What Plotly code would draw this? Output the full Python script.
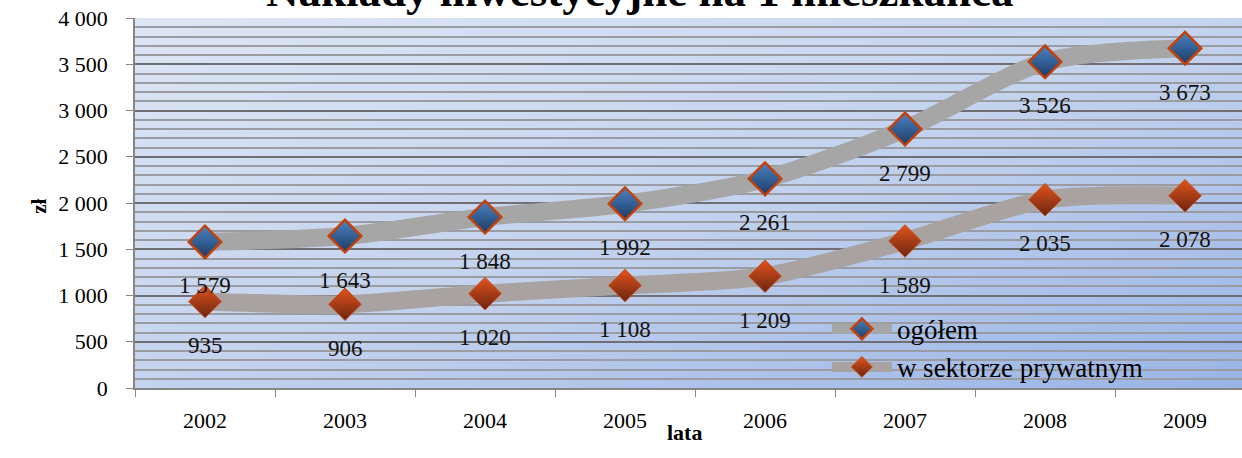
import base64
import plotly.graph_objects as go

years = ["2002", "2003", "2004", "2005", "2006", "2007", "2008", "2009"]
ogolem = [1579, 1643, 1848, 1992, 2261, 2799, 3526, 3673]
prywatny = [935, 906, 1020, 1108, 1209, 1589, 2035, 2078]
y_ticks = [0, 500, 1000, 1500, 2000, 2500, 3000, 3500, 4000]
title_text = "Nakłady inwestycyjne na 1 mieszkańca"

FONT = "Liberation Serif, Times New Roman, DejaVu Serif, serif"


def fmt(v):
    return f"{v:,}".replace(",", " ")


svg = (
    '<svg xmlns="http://www.w3.org/2000/svg" width="400" height="200" preserveAspectRatio="none">'
    '<defs><linearGradient id="g" x1="0" y1="0" x2="1" y2="1">'
    '<stop offset="0" stop-color="#dde6f4"/><stop offset="0.5" stop-color="#c4d3ee"/>'
    '<stop offset="1" stop-color="#99b4e6"/></linearGradient></defs>'
    '<rect width="400" height="200" fill="url(#g)"/></svg>'
)
bg_src = "data:image/svg+xml;base64," + base64.b64encode(svg.encode()).decode()

fig = go.Figure()

fig.add_trace(go.Scatter(
    x=years, y=ogolem, name="ogółem", mode="lines+markers",
    line=dict(color="#a6a6a6", width=18, shape="spline", smoothing=0.8),
    marker=dict(symbol="diamond", size=25, color="#4a84c6",
                gradient=dict(type="vertical", color="#1c3a62"),
                line=dict(color="#c2410c", width=2.5)),
))
fig.add_trace(go.Scatter(
    x=years, y=prywatny, name="w sektorze prywatnym", mode="lines+markers",
    line=dict(color="#a8a3a0", width=18, shape="spline", smoothing=0.8),
    marker=dict(symbol="diamond", size=25, color="#e4531c",
                gradient=dict(type="vertical", color="#6a2510"),
                line=dict(color="#c8481a", width=1)),
))

annotations = []
for series in (ogolem, prywatny):
    for i, yv in enumerate(series):
        annotations.append(dict(
            x=i, y=yv, xref="x", yref="y", text=fmt(yv), showarrow=False,
            yshift=-44, yanchor="middle", font=dict(family=FONT, size=23, color="#111111"),
        ))

annotations.append(dict(
    x=0.456, y=1, xref="paper", yref="paper", text="<b>" + title_text + "</b>",
    showarrow=False, yanchor="bottom", xanchor="center", yshift=0,
    font=dict(family=FONT, size=45, color="#000000"),
))
annotations.append(dict(
    x=0, y=0.49, xref="paper", yref="paper", text="<b>zł</b>", showarrow=False,
    textangle=-90, xshift=-110, font=dict(family=FONT, size=21, color="#000000"),
))
annotations.append(dict(
    x=0.496, y=0, xref="paper", yref="paper", text="<b>lata</b>", showarrow=False,
    yshift=-59, font=dict(family=FONT, size=22, color="#000000"),
))

fig.update_layout(
    width=1242, height=458,
    margin=dict(l=135, r=0, t=18, b=70),
    paper_bgcolor="white",
    plot_bgcolor="rgba(0,0,0,0)",
    images=[dict(source=bg_src, xref="paper", yref="paper", x=0, y=1,
                 sizex=1, sizey=1, sizing="stretch", layer="below", xanchor="left", yanchor="top")],
    font=dict(family=FONT, size=22, color="#000000"),
    showlegend=True,
    legend=dict(x=0.625, y=0.225, xanchor="left", yanchor="top",
                bgcolor="rgba(0,0,0,0)", font=dict(family=FONT, size=27),
                itemwidth=60, tracegroupgap=0),
    annotations=annotations,
    xaxis=dict(
        type="category", range=[-0.5, 7.407], tickson="boundaries",
        ticks="outside", ticklen=7, tickcolor="#868686",
        showline=True, linecolor="#868686", linewidth=1.5,
        showgrid=False, ticklabelstandoff=12,
        tickfont=dict(family=FONT, size=22),
    ),
    yaxis=dict(
        range=[0, 4000], tickvals=y_ticks, ticktext=[fmt(v) for v in y_ticks],
        ticks="outside", ticklen=7, tickcolor="#868686",
        showline=True, linecolor="#868686", linewidth=1.5,
        showgrid=True, gridcolor="#6f6f73", gridwidth=1.5,
        zeroline=False, ticklabelstandoff=14,
        tickfont=dict(family=FONT, size=22),
        minor=dict(dtick=100, showgrid=True, gridcolor="#9a9ca2", gridwidth=1.5, ticks=""),
    ),
)

fig.write_html("out.html", config={"displayModeBar": False},
               post_script="document.body.style.margin='0px';")
